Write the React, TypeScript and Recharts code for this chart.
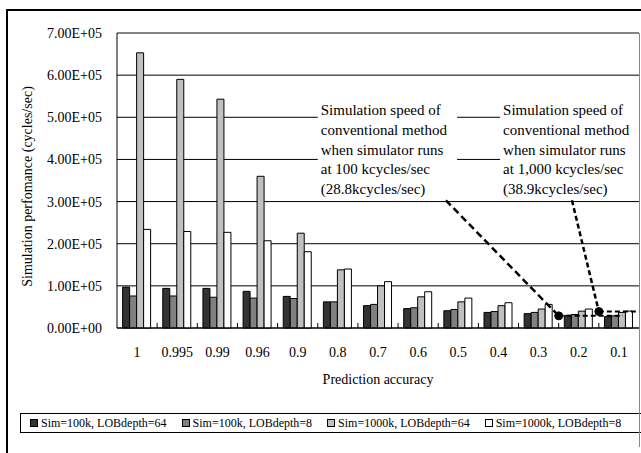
import {
  BarChart,
  Bar,
  XAxis,
  YAxis,
  CartesianGrid,
  Legend,
  ReferenceLine,
  ReferenceArea,
  ReferenceDot,
} from 'recharts'

const categories = ['1', '0.995', '0.99', '0.96', '0.9', '0.8', '0.7', '0.6', '0.5', '0.4', '0.3', '0.2', '0.1']
const sim100kDepth64 = [97000, 94000, 94000, 87000, 75000, 62000, 53000, 46000, 41000, 37000, 34000, 30000, 27000]
const sim100kDepth8 = [76000, 76000, 73000, 71000, 70000, 62000, 56000, 48000, 44000, 39000, 37000, 32000, 29000]
const sim1000kDepth64 = [653000, 590000, 543000, 360000, 225000, 138000, 100000, 74000, 62000, 53000, 45000, 40000, 37000]
const sim1000kDepth8 = [234000, 229000, 227000, 207000, 181000, 140000, 110000, 86000, 71000, 60000, 56000, 45000, 40000]
const yTicks = [0, 100000, 200000, 300000, 400000, 500000, 600000, 700000]

// conventional method speeds shown by the dashed lines
const conventional100k = 28800
const conventional1000k = 38900

const note100kLines = [
  'Simulation speed of',
  'conventional method',
  'when simulator runs',
  'at 100 kcycles/sec',
  '(28.8kcycles/sec)',
]
const note1000kLines = [
  'Simulation speed of',
  'conventional method',
  'when simulator runs',
  'at 1,000 kcycles/sec',
  '(38.9kcycles/sec)',
]

const series = [
  { key: 's100k64', name: 'Sim=100k, LOBdepth=64', fill: '#333333' },
  { key: 's100k8', name: 'Sim=100k, LOBdepth=8', fill: '#808080' },
  { key: 's1000k64', name: 'Sim=1000k, LOBdepth=64', fill: '#c0c0c0' },
  { key: 's1000k8', name: 'Sim=1000k, LOBdepth=8', fill: '#ffffff' },
]

const data = categories.map((c, i) => ({
  accuracy: c,
  slot: i + 0.5,
  s100k64: sim100kDepth64[i],
  s100k8: sim100kDepth8[i],
  s1000k64: sim1000kDepth64[i],
  s1000k8: sim1000kDepth8[i],
}))

const boundaries = categories.slice(1).map((_, i) => i + 1)
const slotCount = categories.length

const font = '"Liberation Serif", "Times New Roman", serif'

const sci = (v: number) => {
  if (v === 0) return '0.00E+00'
  const e = Math.floor(Math.log10(v))
  return (v / Math.pow(10, e)).toFixed(2) + 'E+' + String(e).padStart(2, '0')
}

const noteLabel = (lines: string[]) => (props: any) => {
  const vb = props.viewBox
  const x = vb.x + 3
  return (
    <text x={x} y={vb.y + 17} fontFamily={font} fontSize={15} fill="#000">
      {lines.map((l, i) => (
        <tspan key={i} x={x} dy={i === 0 ? 0 : 19.6}>
          {l}
        </tspan>
      ))}
    </text>
  )
}

const yLabel = (props: any) => {
  const vb = props.viewBox
  const cx = vb.x + 27
  const cy = vb.y + vb.height / 2 + 6
  return (
    <text
      x={cx}
      y={cy}
      transform={`rotate(-90 ${cx} ${cy})`}
      textAnchor="middle"
      dominantBaseline="central"
      fontFamily={font}
      fontSize={14}
      fill="#000"
    >
      Simulation perfomance (cycles/sec)
    </text>
  )
}

const renderLegend = (props: any) => {
  const order = series.map((s) => s.name)
  const items = [...(props.payload || [])].sort((a, b) => order.indexOf(a.value) - order.indexOf(b.value))
  return (
    <div
      style={{
        display: 'flex',
        alignItems: 'center',
        height: '100%',
        paddingLeft: 9,
        fontFamily: font,
        fontSize: 12,
        color: '#000',
        whiteSpace: 'nowrap',
      }}
    >
      {items.map((p: any) => (
        <span key={p.value} style={{ display: 'flex', alignItems: 'center', marginRight: 15 }}>
          <span
            style={{
              display: 'inline-block',
              width: 6,
              height: 6,
              border: '1px solid #000',
              background: p.color,
              marginRight: 3,
            }}
          />
          {p.value}
        </span>
      ))}
    </div>
  )
}

const App = () => {
  return (
    <div style={{ position: 'absolute', left: 0, top: 0, width: 641, height: 453, overflow: 'hidden', background: '#fff' }}>
      {/* outer frame: only its left and top edges fall inside the picture */}
      <div
        style={{
          position: 'absolute',
          left: 6,
          top: 9,
          width: 700,
          height: 500,
          borderLeft: '2px solid #000',
          borderTop: '2px solid #000',
        }}
      />
      <div style={{ position: 'absolute', left: 0, top: 0 }}>
        <BarChart
          width={641}
          height={453}
          data={data}
          margin={{ top: 33, right: 2, left: 0, bottom: 0 }}
          barCategoryGap="14%"
          barGap={0}
        >
          <CartesianGrid vertical={false} stroke="#000" />
          <XAxis
            dataKey="accuracy"
            interval={0}
            tickLine={false}
            tickSize={0}
            tickMargin={19}
            height={105}
            axisLine={{ stroke: '#000' }}
            tick={{ fill: '#000', fontSize: 14, fontFamily: font }}
            label={{
              value: 'Prediction accuracy',
              position: 'insideTop',
              offset: 46,
              fill: '#000',
              fontSize: 14,
              fontFamily: font,
            }}
          />
          <XAxis xAxisId="num" dataKey="slot" type="number" domain={[0, slotCount]} allowDataOverflow hide />
          <YAxis
            domain={[0, 700000]}
            ticks={yTicks}
            interval={0}
            tickFormatter={sci}
            width={117}
            tickLine={false}
            tickSize={6}
            tickMargin={9}
            axisLine={{ stroke: '#000' }}
            tick={{ fill: '#000', fontSize: 14, fontFamily: font }}
            label={yLabel}
          />
          <Legend
            verticalAlign="bottom"
            content={renderLegend}
            wrapperStyle={{
              left: 20,
              top: 413,
              width: 660,
              height: 18,
              border: '1px solid #000',
              background: '#fff',
            }}
          />
          {series.map((s) => (
            <Bar
              key={s.key}
              dataKey={s.key}
              name={s.name}
              fill={s.fill}
              stroke="#000"
              strokeWidth={1}
              isAnimationActive={false}
            />
          ))}
          <ReferenceLine y={700000} stroke="#888" />
          {boundaries.map((b) => (
            <ReferenceLine
              key={b}
              xAxisId="num"
              segment={[
                { x: b, y: 0 },
                { x: b, y: 12000 },
              ]}
              stroke="#000"
            />
          ))}
          <ReferenceArea
            xAxisId="num"
            x1={5.0}
            x2={8.47}
            y1={305000}
            y2={545000}
            fill="#fff"
            fillOpacity={1}
            stroke="none"
            label={noteLabel(note100kLines)}
          />
          <ReferenceArea
            xAxisId="num"
            x1={9.54}
            x2={13}
            y1={305000}
            y2={545000}
            fill="#fff"
            fillOpacity={1}
            stroke="none"
            label={noteLabel(note1000kLines)}
          />
          <ReferenceLine
            xAxisId="num"
            segment={[
              { x: 8.19, y: 303000 },
              { x: 11, y: conventional100k },
            ]}
            stroke="#000"
            strokeWidth={2.5}
            strokeDasharray="7 4"
          />
          <ReferenceLine
            xAxisId="num"
            segment={[
              { x: 11.33, y: 303000 },
              { x: 12, y: conventional1000k },
            ]}
            stroke="#000"
            strokeWidth={2.5}
            strokeDasharray="5 3"
          />
          <ReferenceLine
            xAxisId="num"
            segment={[
              { x: 11, y: conventional100k },
              { x: 12.6, y: conventional100k },
            ]}
            stroke="#000"
            strokeWidth={2}
            strokeDasharray="5 3"
          />
          <ReferenceLine
            xAxisId="num"
            segment={[
              { x: 12, y: conventional1000k },
              { x: 13, y: conventional1000k },
            ]}
            stroke="#000"
            strokeWidth={2}
            strokeDasharray="5 3"
          />
          <ReferenceDot xAxisId="num" x={11} y={conventional100k} r={4} fill="#000" stroke="#000" />
          <ReferenceDot xAxisId="num" x={12} y={conventional1000k} r={4} fill="#000" stroke="#000" />
        </BarChart>
      </div>
      {/* gray right frame line running from the plot top down past the legend */}
      <div style={{ position: 'absolute', left: 639, top: 33, width: 1, height: 414, background: '#888' }} />
    </div>
  )
}

export default App
